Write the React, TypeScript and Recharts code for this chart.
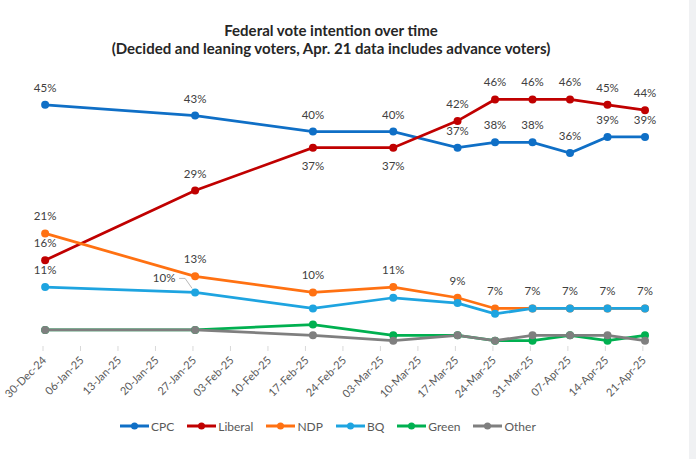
import { LineChart, Line, XAxis, YAxis, Legend, LabelList } from "recharts";

const pollDates = [
  "2024-12-30", "2025-01-27", "2025-02-18", "2025-03-05", "2025-03-17",
  "2025-03-24", "2025-03-31", "2025-04-07", "2025-04-14", "2025-04-21",
];
const cpc = [45, 43, 40, 40, 37, 38, 38, 36, 39, 39];
const liberal = [16, 29, 37, 37, 42, 46, 46, 46, 45, 44];
const ndp = [21, 13, 10, 11, 9, 7, 7, 7, 7, 7];
const bq = [11, 10, 7, 9, 8, 6, 7, 7, 7, 7];
const green = [3, 3, 4, 2, 2, 1, 1, 2, 1, 2];
const other = [3, 3, 2, 1, 2, 1, 2, 2, 2, 1];

const weekLabels = [
  "30-Dec-24", "06-Jan-25", "13-Jan-25", "20-Jan-25", "27-Jan-25", "03-Feb-25",
  "10-Feb-25", "17-Feb-25", "24-Feb-25", "03-Mar-25", "10-Mar-25", "17-Mar-25",
  "24-Mar-25", "31-Mar-25", "07-Apr-25", "14-Apr-25", "21-Apr-25",
];

const DAY = 86400000;
const start = Date.parse("2024-12-30T00:00:00Z");
// Excel's date axis puts a point a little into its day, hence the 0.4
const toDay = (d: string) => Math.round((Date.parse(d + "T00:00:00Z") - start) / DAY) + 0.4;

const data = pollDates.map((d, i) => ({
  day: toDay(d),
  cpc: cpc[i],
  liberal: liberal[i],
  ndp: ndp[i],
  bq: bq[i],
  green: green[i],
  other: other[i],
}));

const ticks = weekLabels.map((_, i) => i * 7);

// where each point's label goes
const labelSpots: Record<string, string[]> = {
  cpc: Array(10).fill("top"),
  liberal: ["top", "top", "bottom", "bottom", "top", "top", "top", "top", "top", "top"],
  ndp: Array(10).fill("top"),
  bq: ["top", "left", "none", "none", "none", "none", "none", "none", "none", "none"],
};

const series = [
  { key: "cpc", name: "CPC", color: "#0f6fc6" },
  { key: "liberal", name: "Liberal", color: "#c00000" },
  { key: "ndp", name: "NDP", color: "#ff7112" },
  { key: "bq", name: "BQ", color: "#1ea4e0" },
  { key: "green", name: "Green", color: "#00b050" },
  { key: "other", name: "Other", color: "#7f7f7f" },
];

const FONT = "Lato, 'Open Sans', sans-serif";

const makeLabel = (spots: string[]) => (props: any) => {
  const { x, y, value, index } = props;
  const spot = spots[index];
  if (!spot || spot === "none") return null;
  const txt = `${value}%`;
  if (spot === "left") {
    return (
      <g>
        <polyline
          points={`${x - 16},${y - 14} ${x - 10},${y - 14} ${x - 3},${y - 4}`}
          fill="none"
          stroke="#a6a6a6"
          strokeWidth={0.8}
        />
        <text x={x - 31} y={y - 10} textAnchor="middle" fontSize={11.5} fill="#404040" fontFamily={FONT}>
          {txt}
        </text>
      </g>
    );
  }
  const ty = spot === "top" ? y - 13 : y + 22;
  return (
    <text x={x} y={ty} textAnchor="middle" fontSize={11.5} fill="#404040" fontFamily={FONT}>
      {txt}
    </text>
  );
};

const DateTick = (props: any) => {
  const { x, y, payload } = props;
  const label = weekLabels[Math.round(payload.value / 7)];
  return (
    <text
      x={x + 4}
      y={y + 8}
      textAnchor="end"
      fontSize={11}
      fill="#595959"
      fontFamily={FONT}
      transform={`rotate(-45, ${x + 4}, ${y + 8})`}
    >
      {label}
    </text>
  );
};

const LegendBox = () => (
  <div style={{ display: "flex", alignItems: "center", height: 20, fontFamily: FONT, fontSize: 12, color: "#595959" }}>
    {series.map((s) => (
      <div key={s.key} style={{ display: "flex", alignItems: "center", marginRight: 13 }}>
        <svg width={29} height={10} style={{ marginRight: 2 }}>
          <line x1={0} y1={5} x2={29} y2={5} stroke={s.color} strokeWidth={3} />
          <circle cx={14.5} cy={5} r={3.5} fill={s.color} />
        </svg>
        <span>{s.name}</span>
      </div>
    ))}
  </div>
);

export default function App() {
  return (
    <div style={{ position: "relative", width: 696, height: 459, background: "#f0f1f3" }}>
      <style>{`body{margin:0}`}</style>
      <div style={{ position: "absolute", left: 0, top: 0, width: 689, height: 459, background: "#fff" }}>
        <div
          style={{
            position: "absolute",
            left: 0,
            top: 21,
            width: 662,
            textAlign: "center",
            fontFamily: FONT,
            fontWeight: 700,
            fontSize: 15,
            lineHeight: "18px",
            color: "#262626",
          }}
        >
          Federal vote intention over time
          <br />
          (Decided and leaning voters, Apr. 21 data includes advance voters)
        </div>
        <LineChart width={689} height={459} data={data} margin={{ top: 78, right: 44, left: 43, bottom: 43 }}>
          <XAxis
            dataKey="day"
            type="number"
            domain={[0, 112.4]}
            ticks={ticks}
            interval={0}
            height={50}
            tick={<DateTick />}
            axisLine={false}
            tickLine={{ stroke: "#d9d9d9" }}
            tickSize={5}
          />
          <YAxis hide domain={[0, 50]} />
          <Legend
            verticalAlign="bottom"
            content={<LegendBox />}
            wrapperStyle={{ left: 120, bottom: 23, width: "auto" }}
          />
          {series.map((s) => (
            <Line
              key={s.key}
              dataKey={s.key}
              name={s.name}
              stroke={s.color}
              strokeWidth={2.75}
              dot={{ r: 4, fill: s.color, stroke: s.color, strokeWidth: 0 }}
              activeDot={false}
              isAnimationActive={false}
            >
              {labelSpots[s.key] && <LabelList dataKey={s.key} content={makeLabel(labelSpots[s.key])} />}
            </Line>
          ))}
          <XAxis
            xAxisId="line"
            dataKey="day"
            type="number"
            domain={[0, 112]}
            ticks={[]}
            height={0}
            hide={false}
            tick={false}
            tickLine={false}
            axisLine={{ stroke: "#d9d9d9" }}
          />
        </LineChart>
      </div>
    </div>
  );
}
